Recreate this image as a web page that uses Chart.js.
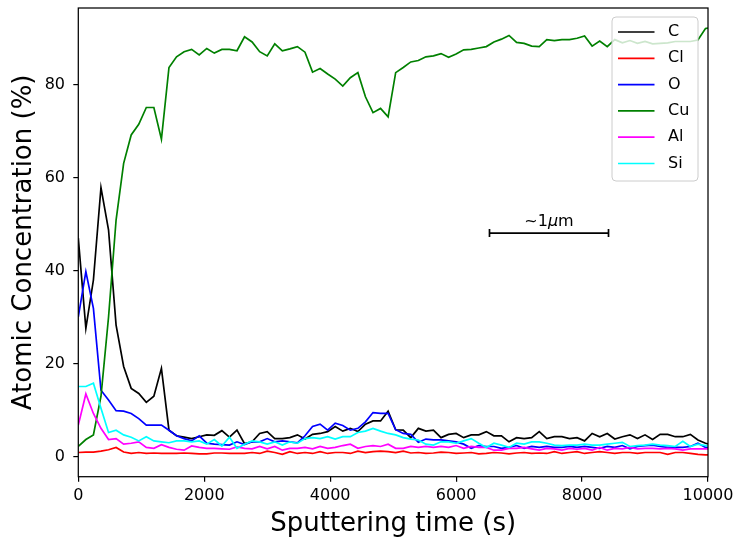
<!DOCTYPE html>
<html>
<head>
<meta charset="utf-8">
<script src="https://cdn.jsdelivr.net/npm/chart.js@4"></script>
<style>
  html, body { margin: 0; padding: 0; background: #fff; }
  #wrap { width: 738px; height: 542px; }
</style>
</head>
<body>
<div id="wrap"><canvas id="c" width="738" height="542"></canvas></div>
<script>
// ---- data ----
const times = [0,120,240,360,480,600,720,840,960,1080,1200,1320,1440,1560,1680,1800,1920,2040,2160,2280,2400,2520,2640,2760,2880,3000,3120,3240,3360,3480,3600,3720,3840,3960,4080,4200,4320,4440,4560,4680,4800,4920,5040,5160,5280,5400,5520,5640,5760,5880,6000,6120,6240,6360,6480,6600,6720,6840,6960,7080,7200,7320,7440,7560,7680,7800,7920,8040,8160,8280,8400,8520,8640,8760,8880,9000,9120,9240,9360,9480,9600,9720,9840,9960,10080];

const seriesC  = [47.0,27.6,38.0,57.9,48.8,28.3,19.4,14.7,13.6,11.7,13.0,19.0,5.7,4.5,4.2,3.9,4.3,4.7,4.6,5.6,4.2,5.7,2.8,3.2,5.0,5.4,3.9,3.9,4.1,4.7,3.8,4.8,5.0,5.4,6.5,5.5,6.1,5.4,7.0,7.7,7.7,9.8,5.8,5.7,4.1,6.1,5.5,5.7,4.1,4.8,5.0,4.1,4.7,4.7,5.4,4.5,4.5,3.2,4.1,3.9,4.1,5.4,3.9,4.3,4.3,3.9,4.1,3.4,5.0,4.3,5.0,3.8,4.3,4.7,3.9,4.7,3.7,4.8,4.8,4.3,4.3,4.8,3.6,2.9,2.5];
const seriesCl = [0.9,1.0,1.0,1.2,1.5,2.0,1.0,0.7,0.9,0.7,0.8,0.7,0.7,0.7,0.8,0.7,0.6,0.6,0.8,0.8,0.7,0.7,0.7,0.9,0.7,1.2,0.9,0.5,1.1,0.7,0.9,0.7,1.1,0.7,0.9,0.9,0.7,1.2,0.9,1.1,1.2,1.1,0.9,1.2,0.8,0.9,0.7,0.8,1.0,0.9,0.7,0.8,0.9,0.6,0.7,0.9,0.8,0.6,0.8,0.9,0.7,0.8,0.7,1.1,0.7,0.9,1.1,0.7,0.9,1.1,0.9,0.7,0.9,0.9,0.7,0.9,0.9,0.9,0.5,0.9,0.9,0.7,0.5,0.4,0.4];
const seriesO  = [30.1,39.8,31.9,14.3,12.2,9.9,9.8,9.3,8.2,6.8,6.8,6.8,5.7,4.5,3.9,3.4,4.5,2.9,2.7,2.6,2.5,3.2,2.6,3.2,3.2,3.9,3.2,3.4,3.2,3.0,4.5,6.5,7.0,5.7,7.2,6.7,5.7,6.1,7.5,9.5,9.3,9.3,5.8,5.0,4.8,3.1,3.8,3.6,3.6,3.4,3.2,2.7,1.8,2.4,2.2,2.2,1.8,2.0,2.4,1.8,2.2,2.0,2.2,2.0,2.0,2.2,2.0,2.2,2.0,1.8,2.2,2.0,2.4,1.7,2.2,2.4,2.5,2.2,2.0,2.0,2.0,2.2,2.9,2.0,2.0];
const seriesCu = [2.2,3.7,4.7,13.0,30.0,50.9,63.1,69.2,71.5,75.1,75.1,68.3,83.7,86.0,87.1,87.6,86.4,87.8,86.8,87.6,87.6,87.3,90.3,89.2,87.1,86.2,88.8,87.3,87.7,88.2,87.0,82.7,83.5,82.3,81.2,79.7,81.5,82.6,77.4,74.0,74.9,73.1,82.6,83.7,84.9,85.2,86.0,86.2,86.7,85.9,86.6,87.5,87.6,87.9,88.2,89.2,89.8,90.6,89.1,88.9,88.3,88.2,89.7,89.5,89.7,89.7,90.0,90.5,88.3,89.4,88.2,89.7,89.0,89.5,88.9,89.3,88.8,88.9,89.0,89.3,89.3,89.3,89.6,92.1,92.3];
const seriesAl = [6.8,13.5,9.3,6.1,3.7,3.9,2.7,2.9,3.2,2.0,1.8,2.6,2.0,1.6,1.4,2.3,2.0,1.8,1.8,1.7,1.6,2.1,1.8,1.7,2.2,1.7,2.2,1.4,1.8,1.8,2.0,1.7,2.2,1.8,2.0,2.4,2.7,1.8,2.2,2.4,2.2,2.7,1.8,1.8,2.2,2.0,2.2,2.0,2.2,2.0,2.4,1.8,2.2,2.0,2.0,1.4,1.4,1.8,1.8,2.0,1.7,1.4,1.8,1.7,1.4,1.8,1.6,1.8,1.4,2.0,1.4,1.8,1.7,2.0,1.7,1.8,1.8,1.7,1.8,1.7,1.4,1.7,1.7,1.7,1.7];
const seriesSi = [15.1,15.1,15.8,10.4,5.2,5.7,4.7,4.2,3.4,4.3,3.4,3.2,3.0,3.4,3.4,3.2,3.4,2.7,3.7,2.3,4.2,1.8,2.7,3.4,3.2,2.7,3.2,2.5,3.2,2.9,3.9,4.1,3.9,4.3,3.8,4.3,4.3,5.2,5.5,6.1,5.5,5.0,4.7,4.1,3.8,3.6,2.7,2.5,3.2,3.2,2.9,3.4,3.9,2.9,2.0,2.9,2.5,2.0,2.9,2.7,3.2,3.2,2.9,2.5,2.4,2.5,2.5,2.7,2.5,2.5,2.7,2.9,3.1,2.2,2.4,2.5,2.7,2.5,2.4,2.2,3.3,2.2,2.7,2.4,2.4];

const seriesNames  = ['C', 'Cl', 'O', 'Cu', 'Al', 'Si'];
const seriesValues = [seriesC, seriesCl, seriesO, seriesCu, seriesAl, seriesSi];
const seriesColors = ['#000000', '#ff0000', '#0000ff', '#008000', '#ff00ff', '#00ffff'];

const xTicks = [0, 2000, 4000, 6000, 8000, 10000];
const yTicks = [0, 20, 40, 60, 80];
const xLimits = [0, 10000];
const yLimits = [-4.3, 96.5];

const scaleBarStart = 6530;
const scaleBarEnd = 8420;
const scaleBarY = 48.1;
const scaleBarText = ['~1', 'μ', 'm'];

const FONT = '"DejaVu Sans", "Liberation Sans", sans-serif';

// ---- plugins ----
const framePlugin = {
  id: 'frame',
  afterDraw(chart) {
    const {ctx, chartArea: a, scales} = chart;
    ctx.save();
    // scale bar annotation
    const x0 = scales.x.getPixelForValue(scaleBarStart);
    const x1 = scales.x.getPixelForValue(scaleBarEnd);
    const yb = scales.y.getPixelForValue(scaleBarY);
    ctx.strokeStyle = '#000';
    ctx.lineWidth = 1.7;
    ctx.beginPath();
    ctx.moveTo(x0, yb); ctx.lineTo(x1, yb);
    ctx.moveTo(x0, yb - 4); ctx.lineTo(x0, yb + 4);
    ctx.moveTo(x1, yb - 4); ctx.lineTo(x1, yb + 4);
    ctx.stroke();
    const fonts = ['16px ' + FONT, 'italic 16px ' + FONT, '16px ' + FONT];
    let widths = scaleBarText.map((t, i) => { ctx.font = fonts[i]; return ctx.measureText(t).width; });
    let total = widths.reduce((s, w) => s + w, 0);
    let tx = (x0 + x1) / 2 - total / 2;
    ctx.fillStyle = '#000';
    ctx.textBaseline = 'alphabetic';
    ctx.textAlign = 'left';
    scaleBarText.forEach((t, i) => { ctx.font = fonts[i]; ctx.fillText(t, tx, yb - 7); tx += widths[i]; });

    // frame (spines)
    ctx.lineWidth = 1.25;
    ctx.strokeStyle = '#000';
    ctx.strokeRect(a.left, a.top, a.right - a.left, a.bottom - a.top);

    // legend
    const lw = 86, lh = 164;
    const lx = a.right - 10 - lw, ly = a.top + 9;
    const r = 4;
    ctx.beginPath();
    ctx.moveTo(lx + r, ly);
    ctx.lineTo(lx + lw - r, ly); ctx.quadraticCurveTo(lx + lw, ly, lx + lw, ly + r);
    ctx.lineTo(lx + lw, ly + lh - r); ctx.quadraticCurveTo(lx + lw, ly + lh, lx + lw - r, ly + lh);
    ctx.lineTo(lx + r, ly + lh); ctx.quadraticCurveTo(lx, ly + lh, lx, ly + lh - r);
    ctx.lineTo(lx, ly + r); ctx.quadraticCurveTo(lx, ly, lx + r, ly);
    ctx.closePath();
    ctx.fillStyle = 'rgba(255,255,255,0.8)';
    ctx.fill();
    ctx.strokeStyle = '#cccccc';
    ctx.lineWidth = 1;
    ctx.stroke();
    ctx.font = '16px ' + FONT;
    ctx.textBaseline = 'middle';
    chart.data.datasets.forEach((ds, i) => {
      const yy = ly + 15 + i * 26.3;
      ctx.strokeStyle = ds.borderColor;
      ctx.lineWidth = 1.7;
      ctx.beginPath();
      ctx.moveTo(lx + 6, yy); ctx.lineTo(lx + 42.5, yy);
      ctx.stroke();
      ctx.fillStyle = '#000';
      ctx.fillText(ds.label, lx + 56, yy);
    });
    ctx.restore();
  }
};

const datasets = seriesNames.map((name, i) => ({
  label: name,
  data: times.map((t, j) => ({x: t, y: seriesValues[i][j]})),
  borderColor: seriesColors[i],
  backgroundColor: seriesColors[i],
  borderWidth: 1.7,
  pointRadius: 0,
  tension: 0,
  fill: false,
  order: seriesNames.length - i
}));

new Chart(document.getElementById('c'), {
  type: 'line',
  data: { datasets },
  plugins: [framePlugin],
  options: {
    responsive: false,
    devicePixelRatio: 1,
    animation: false,
    events: [],
    layout: { padding: { left: 0, right: 30, top: 8, bottom: 0 } },
    plugins: { legend: { display: false }, tooltip: { enabled: false } },
    scales: {
      x: {
        type: 'linear',
        min: xLimits[0], max: xLimits[1],
        afterBuildTicks: (s) => { s.ticks = xTicks.map(v => ({value: v})); },
        afterFit: (s) => { s.height = 65.3; s.paddingLeft = 0; s.paddingRight = 0; },
        ticks: { callback: (v) => String(v), font: { family: FONT, size: 16 }, color: '#000', padding: 5, maxRotation: 0 },
        grid: { drawOnChartArea: false, drawTicks: true, tickLength: 5, color: '#000', lineWidth: 1.2 },
        border: { display: false },
        title: { display: true, text: 'Sputtering time (s)', font: { family: FONT, size: 26 }, color: '#000', padding: { top: 0, bottom: 2.4 } }
      },
      y: {
        type: 'linear',
        min: yLimits[0], max: yLimits[1],
        afterBuildTicks: (s) => { s.ticks = yTicks.map(v => ({value: v})); },
        afterFit: (s) => { s.width = 78.3; s.paddingTop = 0; s.paddingBottom = 0; },
        ticks: { callback: (v) => String(v), font: { family: FONT, size: 16 }, color: '#000', padding: 8.3 },
        grid: { drawOnChartArea: false, drawTicks: true, tickLength: 5, color: '#000', lineWidth: 1.2 },
        border: { display: false },
        title: { display: true, text: 'Atomic Concentration (%)', font: { family: FONT, size: 26 }, color: '#000', padding: { top: 9, bottom: 0 } }
      }
    }
  }
});
</script>
</body>
</html>
